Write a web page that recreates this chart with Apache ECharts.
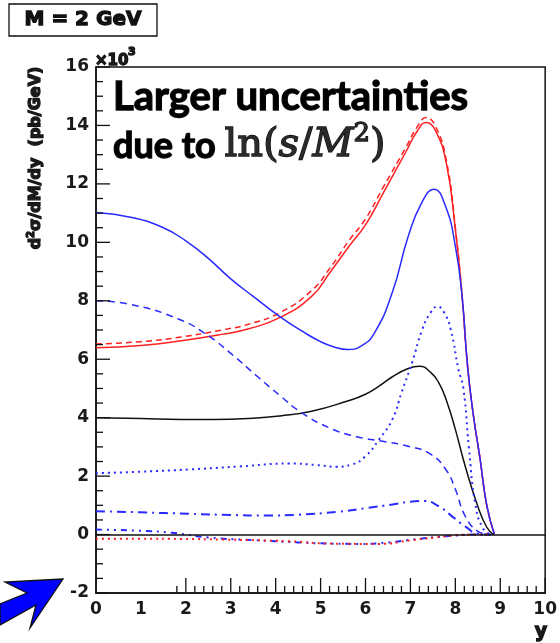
<!DOCTYPE html>
<html>
<head>
<meta charset="utf-8">
<script src="https://cdn.jsdelivr.net/npm/echarts@6/dist/echarts.min.js"></script>
<style>
  html, body { margin: 0; padding: 0; background: #fff; }
  #chart { width: 560px; height: 643px; }
</style>
</head>
<body>
<div id="chart"></div>
<script>
// d2sigma/dM/dy at M = 2 GeV, in units of 10^3 pb/GeV, versus rapidity y
const redSolid = [[0,6.39],[1,6.47],[1.9,6.63],[2.8,6.85],[3.4,7.04],[4.1,7.43],[4.8,8.15],[5.2,8.95],[5.65,9.9],[6.0,10.6],[6.4,11.7],[6.9,13.1],[7.15,13.8],[7.35,14.1],[7.55,13.85],[7.8,12.7],[8.0,10.45],[8.15,8.16],[8.27,5.8],[8.4,4.1],[8.55,2.6],[8.7,1.0],[8.87,0]];
const redDashed = [[0,6.52],[1,6.6],[1.9,6.76],[2.8,7.0],[3.4,7.2],[4.1,7.6],[4.8,8.35],[5.2,9.1],[5.65,10.1],[6.0,10.8],[6.4,11.9],[6.9,13.25],[7.15,13.95],[7.35,14.27],[7.55,14.0],[7.8,12.8],[8.0,10.5],[8.15,8.2],[8.27,5.8],[8.4,4.1],[8.55,2.6],[8.7,1.0],[8.87,0]];
const blueSolid = [[0,11.02],[0.8,10.85],[1.5,10.5],[2.0,10.05],[2.5,9.45],[3.0,8.75],[3.5,8.15],[4.1,7.45],[4.6,6.95],[5.0,6.6],[5.3,6.42],[5.6,6.33],[5.9,6.45],[6.2,6.9],[6.6,8.3],[6.95,10.2],[7.25,11.35],[7.52,11.82],[7.78,11.24],[8.0,9.87],[8.15,8.16],[8.27,5.8],[8.4,4.1],[8.55,2.6],[8.7,1.0],[8.87,0]];
const blackSolid = [[0,4.0],[1,3.97],[1.9,3.94],[2.6,3.94],[3.5,3.98],[4.1,4.06],[4.8,4.22],[5.6,4.57],[6.0,4.8],[6.3,5.08],[6.6,5.4],[6.9,5.65],[7.2,5.76],[7.45,5.55],[7.63,5.2],[7.8,4.6],[8.0,3.6],[8.22,2.34],[8.5,0.97],[8.7,0.25],[8.85,0]];
const blueDashed = [[0,8.0],[0.75,7.88],[1.86,7.36],[2.5,6.8],[3.0,6.2],[3.6,5.4],[4.1,4.75],[4.55,4.2],[5.2,3.65],[5.8,3.35],[6.35,3.2],[6.95,3.02],[7.45,2.75],[7.8,2.2],[8.0,1.55],[8.22,0.63],[8.5,0.11],[8.75,0]];
const blueDotted = [[0,2.1],[1,2.15],[2.1,2.23],[3.2,2.33],[4.3,2.43],[4.9,2.38],[5.35,2.32],[5.7,2.4],[6.0,2.68],[6.3,3.25],[6.6,3.95],[6.8,4.85],[7.04,5.9],[7.26,7.0],[7.45,7.6],[7.6,7.8],[7.75,7.6],[7.9,7.0],[8.07,5.65],[8.18,5.0],[8.3,3.0],[8.45,1.0],[8.62,0.2],[8.8,0]];
const blueDashDot = [[0,0.8],[1,0.76],[2.08,0.71],[3,0.67],[3.8,0.65],[4.5,0.68],[5.4,0.78],[6.0,0.9],[6.6,1.03],[7.1,1.14],[7.3,1.15],[7.63,0.97],[7.92,0.63],[8.22,0.28],[8.5,0.03],[8.8,0]];
const blueNearZero = [[0,0.17],[1,0.13],[1.7,0.06],[2.5,-0.1],[3.5,-0.19],[4.5,-0.27],[5.0,-0.3],[5.9,-0.32],[6.5,-0.27],[7.04,-0.17],[7.78,-0.06],[8.5,0],[8.8,0]];
const redDotted = [[0,-0.14],[1,-0.14],[1.9,-0.15],[2.8,-0.17],[4.3,-0.23],[5.2,-0.31],[6.3,-0.32],[7.0,-0.2],[7.8,-0.06],[8.3,0],[8.8,0]];

// axis ranges: major step and number of minor divisions per major step
const xTicks = { min: 0, max: 10, step: 1, minorDiv: 5 };
const yTicks = { min: -2, max: 16, step: 2, minorDiv: 4 };

const RED = '#ff2020';
const BLUE = '#2a2aff';
const INK = '#111';
const ROOT_FONT = 'DejaVu Sans';

function curve(data, color, type, width) {
  return {
    type: 'line',
    data: data,
    smooth: 0.5,
    symbol: 'none',
    lineStyle: { color: color, width: width || 1.5, type: type }
  };
}

const chart = echarts.init(document.getElementById('chart'));

chart.setOption({
  animation: false,
  grid: { left: 96, right: 13, top: 67, bottom: 50, show: true, borderColor: INK, borderWidth: 1.5 },
  xAxis: {
    type: 'value',
    min: xTicks.min, max: xTicks.max, interval: xTicks.step,
    splitLine: { show: false },
    axisLine: { show: true, onZero: false, lineStyle: { color: INK, width: 1.5 } },
    axisTick: { show: false },
    axisLabel: { margin: 8, fontFamily: ROOT_FONT, fontWeight: 'bold', fontSize: 17, color: '#1a1a1a' }
  },
  yAxis: {
    type: 'value',
    min: yTicks.min, max: yTicks.max, interval: yTicks.step,
    splitLine: { show: false },
    axisLine: { show: true, onZero: false, lineStyle: { color: INK, width: 1.5 } },
    axisTick: { show: false },
    axisLabel: { margin: 7, fontFamily: ROOT_FONT, fontWeight: 'bold', fontSize: 17, color: '#1a1a1a' }
  },
  series: [
    Object.assign(curve(redSolid, RED, 'solid'), {
      markLine: {
        silent: true, symbol: 'none', label: { show: false },
        lineStyle: { color: INK, width: 1.5, type: 'solid' },
        data: [{ yAxis: 0 }]
      }
    }),
    curve(redDashed, RED, [6, 4]),
    curve(blueSolid, BLUE, 'solid'),
    curve(blackSolid, INK, 'solid'),
    curve(blueDashed, BLUE, [7, 5]),
    curve(blueDotted, BLUE, [2, 4], 2),
    curve(blueDashDot, BLUE, [9, 5, 2, 5], 2),
    curve(blueNearZero, BLUE, [6, 5, 2, 5, 2, 5], 2),
    curve(redDotted, RED, [2, 4], 2)
  ],
  graphic: [
    // x-axis title
    { type: 'text', x: 541, y: 632, style: { text: 'y', font: 'bold 19px "DejaVu Sans"', fill: '#1a1a1a', align: 'center', verticalAlign: 'middle' } },
    // mass label box
    { type: 'rect', shape: { x: 9, y: 4, width: 148, height: 32 }, style: { fill: '#fff', stroke: INK, lineWidth: 1.5 } },
    { type: 'text', x: 83, y: 20, style: { text: 'M = 2 GeV', font: 'bold 20px "DejaVu Sans"', fill: INK, align: 'center', verticalAlign: 'middle' } },
    // axis scale factor
    { type: 'text', x: 95, y: 61, style: { text: '×10', font: 'bold 15px "DejaVu Sans"', fill: '#1a1a1a', align: 'left', verticalAlign: 'middle' } },
    { type: 'text', x: 128, y: 52, style: { text: '3', font: 'bold 11px "DejaVu Sans"', fill: '#1a1a1a', align: 'left', verticalAlign: 'middle' } },
    // y-axis title
    { type: 'text', x: 36, y: 158, rotation: Math.PI / 2,
      style: {
        text: '{a|d}{s|2}{a|σ/dM/dy  (pb/GeV)}',
        align: 'center', verticalAlign: 'middle',
        rich: {
          a: { fontFamily: ROOT_FONT, fontWeight: 'bold', fontSize: 16, fill: '#1a1a1a', lineHeight: 20 },
          s: { fontFamily: ROOT_FONT, fontWeight: 'bold', fontSize: 10, fill: '#1a1a1a', verticalAlign: 'top', lineHeight: 20 }
        }
      } },
    // annotation
    { type: 'text', x: 113, y: 97, style: { text: 'Larger uncertainties', font: 'bold 40px Lato', fill: '#000', align: 'left', verticalAlign: 'middle' } },
    { type: 'text', x: 113, y: 146,
      style: {
        text: '{t|due to }{m|ln(}{i|s}{m|/}{i|M}{p|2}{m|)}',
        align: 'left', verticalAlign: 'middle',
        rich: {
          t: { fontFamily: 'Lato', fontWeight: 'bold', fontSize: 36, fill: '#000', lineHeight: 50 },
          m: { fontFamily: 'DejaVu Serif', fontSize: 40, fill: '#2a2a2a', lineHeight: 50 },
          i: { fontFamily: 'DejaVu Serif', fontStyle: 'italic', fontSize: 40, fill: '#2a2a2a', lineHeight: 50 },
          p: { fontFamily: 'DejaVu Serif', fontSize: 26, fill: '#2a2a2a', verticalAlign: 'top', lineHeight: 50 }
        }
      } },
    // arrow pointing at the lower-left corner
    { type: 'polygon', shape: { points: [[63, 579], [5, 582], [27, 593], [0, 604], [0, 625], [36, 605], [30, 628]] },
      style: { fill: '#0000ff' } }
  ]
});

// inward ROOT-style tick marks, placed through the grid's own coordinate conversion
const tickLines = [];
const nx = Math.round((xTicks.max - xTicks.min) / xTicks.step) * xTicks.minorDiv;
for (let k = 0; k <= nx; k++) {
  const p = chart.convertToPixel({ gridIndex: 0 }, [xTicks.min + k * xTicks.step / xTicks.minorDiv, yTicks.min]);
  const len = k % xTicks.minorDiv === 0 ? 15 : 7;
  tickLines.push({ type: 'line', z: 100, silent: true,
    shape: { x1: p[0], y1: p[1], x2: p[0], y2: p[1] - len },
    style: { stroke: INK, lineWidth: 1.3 } });
}
const ny = Math.round((yTicks.max - yTicks.min) / yTicks.step) * yTicks.minorDiv;
for (let k = 0; k <= ny; k++) {
  const p = chart.convertToPixel({ gridIndex: 0 }, [xTicks.min, yTicks.min + k * yTicks.step / yTicks.minorDiv]);
  const len = k % yTicks.minorDiv === 0 ? 14 : 7;
  tickLines.push({ type: 'line', z: 100, silent: true,
    shape: { x1: p[0], y1: p[1], x2: p[0] + len, y2: p[1] },
    style: { stroke: INK, lineWidth: 1.3 } });
}
chart.setOption({
  graphic: [{ type: 'group', id: 'ticks', children: tickLines }]
});
</script>
</body>
</html>
